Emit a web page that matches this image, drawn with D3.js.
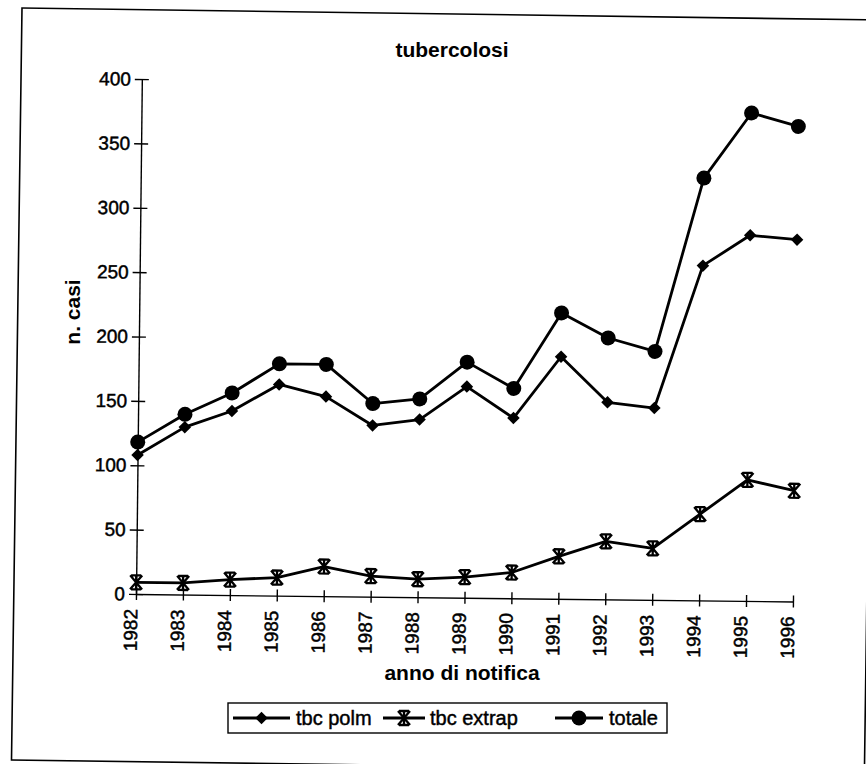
<!DOCTYPE html>
<html>
<head>
<meta charset="utf-8">
<script src="https://cdn.jsdelivr.net/npm/d3@7"></script>
<style>
  html, body { margin: 0; padding: 0; background: #fff; }
  svg { display: block; font-family: "Liberation Sans", Arial, sans-serif; }
  .tick-lbl { font-size: 19px; fill: #000; stroke: #000; stroke-width: 0.45px; }
  .ttl { font-size: 21px; font-weight: bold; fill: #000; }
  .legend-lbl { font-size: 20px; fill: #000; stroke: #000; stroke-width: 0.45px; }
</style>
</head>
<body>
<svg id="chart"></svg>
<script>
// ── Data ──────────────────────────────────────────────────────────────────────
const YEARS   = [1982, 1983, 1984, 1985, 1986, 1987, 1988, 1989, 1990, 1991, 1992, 1993, 1994, 1995, 1996];
const POLM    = [108, 130, 143, 164, 155, 133, 138, 164, 140, 188, 153, 149, 260, 284, 281];
const EXTRAP  = [9, 9, 12, 14, 23, 16, 14, 16, 20, 33, 45, 40, 67, 94, 86];
const TOTALE  = [118, 140, 157, 180, 180, 150, 154, 183, 163, 222, 203, 193, 328, 379, 369];
const Y_TICKS = [0, 50, 100, 150, 200, 250, 300, 350, 400];
const SERIES_NAMES = ["tbc polm", "tbc extrap", "totale"];

const VW = 866, VH = 764;
const M  = { top: 79, left: 136 };
const W  = 657, H = 515;
const TILT = 0.65;   // the scan is slightly skewed

const svg = d3.select("#chart").attr("width", VW).attr("height", VH);

// outer frame (skewed like the scan, partly off the page)
svg.append("rect")
  .attr("x", 22).attr("y", 8).attr("width", 853).attr("height", 752)
  .attr("transform", "rotate(0.8,22,8)")
  .attr("fill", "none").attr("stroke", "#000").attr("stroke-width", 1.6);

// title
svg.append("text").attr("class", "ttl")
  .attr("x", 452).attr("y", 57).attr("text-anchor", "middle").attr("font-size", "24px")
  .text("tubercolosi");

const g = svg.append("g")
  .attr("transform", `translate(${M.left},${M.top}) rotate(${TILT},0,${H})`);

const x = d3.scalePoint().domain(YEARS).range([0, W]);
const y = d3.scaleLinear().domain([0, 400]).range([H, 0]);

// ── Axes ──────────────────────────────────────────────────────────────────────
const yAxisG = g.append("g")
  .call(d3.axisLeft(y).tickValues(Y_TICKS).tickSize(7).tickSizeOuter(0));
yAxisG.selectAll(".tick line").attr("x1", -7).attr("x2", 7);
yAxisG.selectAll(".tick text").attr("class", "tick-lbl").attr("x", -11)
  .attr("font-size", null).attr("font-family", null);

const xAxisG = g.append("g").attr("transform", `translate(0,${H})`)
  .call(d3.axisBottom(x).tickSize(6).tickSizeOuter(0));
xAxisG.selectAll(".tick line").attr("y1", -6).attr("y2", 6);
xAxisG.selectAll(".tick text").attr("class", "tick-lbl")
  .attr("font-size", null).attr("font-family", null)
  .attr("transform", "rotate(-90)")
  .attr("x", -15).attr("y", 0).attr("dy", "0.05em")
  .attr("text-anchor", "end");

g.selectAll(".domain").attr("stroke-width", 1.4);
g.selectAll(".tick line").attr("stroke-width", 1.4);

svg.append("text").attr("class", "ttl")
  .attr("transform", "translate(80,312) rotate(-90)")
  .attr("text-anchor", "middle").attr("font-size", "19px")
  .text("n. casi");

svg.append("text").attr("class", "ttl")
  .attr("x", 462).attr("y", 680).attr("text-anchor", "middle").attr("font-size", "20px")
  .text("anno di notifica");

// ── Markers ───────────────────────────────────────────────────────────────────
const diamond = d3.symbol().type(d3.symbolDiamond2).size(100);
function drawMarker(sel, kind) {
  if (kind === "diamond") {
    sel.append("path").attr("d", diamond()).attr("fill", "#000");
  } else if (kind === "circle") {
    sel.append("circle").attr("r", 7.5).attr("fill", "#000");
  } else {
    sel.append("path").attr("d", "M-6,-7L6,7M-6,7L6,-7M0,-7L0,7M-5,-7L5,-7M-5,7L5,7")
      .attr("fill", "none").attr("stroke", "#000").attr("stroke-width", 2.3);
  }
}

const series = [
  { name: SERIES_NAMES[0], values: POLM,   marker: "diamond" },
  { name: SERIES_NAMES[1], values: EXTRAP, marker: "star" },
  { name: SERIES_NAMES[2], values: TOTALE, marker: "circle" }
];

const line = d3.line().x((d, i) => x(YEARS[i])).y(d => y(d));

series.forEach(s => {
  g.append("path").datum(s.values)
    .attr("d", line)
    .attr("fill", "none").attr("stroke", "#000").attr("stroke-width", 2.8)
    .attr("stroke-linejoin", "round");
  g.selectAll(null).data(s.values).join("g")
    .attr("transform", (d, i) => `translate(${x(YEARS[i])},${y(d)})`)
    .each(function () { drawMarker(d3.select(this), s.marker); });
});

// ── Legend ────────────────────────────────────────────────────────────────────
const legG = svg.append("g").attr("transform", "translate(228,703)");
legG.append("rect").attr("width", 439).attr("height", 30)
  .attr("fill", "#fff").attr("stroke", "#000").attr("stroke-width", 1.4);

const LEG_POS = [
  { x0: 5,   x1: 62,  tx: 68 },
  { x0: 155, x1: 197, tx: 202 },
  { x0: 327, x1: 375, tx: 381 }
];
series.forEach((s, i) => {
  const p = LEG_POS[i];
  const row = legG.append("g");
  row.append("line").attr("x1", p.x0).attr("x2", p.x1).attr("y1", 15).attr("y2", 15)
    .attr("stroke", "#000").attr("stroke-width", 2.8);
  const mk = row.append("g").attr("transform", `translate(${(p.x0 + p.x1) / 2},15)`);
  drawMarker(mk, s.marker);
  row.append("text").attr("class", "legend-lbl")
    .attr("x", p.tx).attr("y", 22).text(s.name);
});
</script>
</body>
</html>
